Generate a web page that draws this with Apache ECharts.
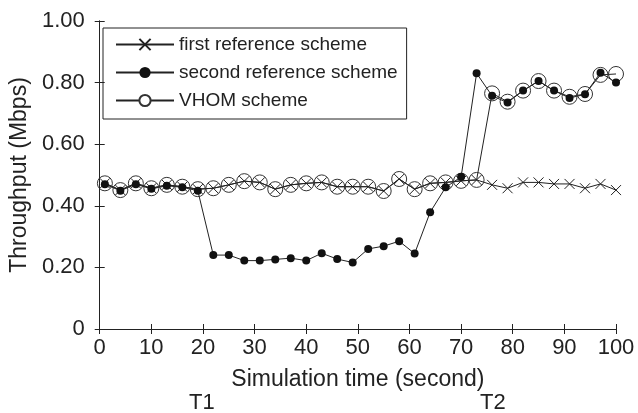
<!DOCTYPE html>
<html>
<head>
<meta charset="utf-8">
<script src="https://cdn.jsdelivr.net/npm/echarts@6/dist/echarts.min.js"></script>
<style>
    html, body { margin: 0; padding: 0; background: #ffffff; }
    #chart { width: 638px; height: 413px; }
</style>
</head>
<body>
<div id="chart"></div>
<script>
const timeSec = [1, 4, 7, 10, 13, 16, 19, 22, 25, 28, 31, 34, 37, 40, 43, 46, 49,
    52, 55, 58, 61, 64, 67, 70, 73, 76, 79, 82, 85, 88, 91, 94, 97, 100];

const firstReference = [0.473, 0.451, 0.473, 0.457, 0.468, 0.462, 0.454, 0.457, 0.468,
    0.480, 0.476, 0.454, 0.468, 0.473, 0.476, 0.462, 0.462, 0.462, 0.448, 0.487,
    0.454, 0.473, 0.476, 0.481, 0.484, 0.468, 0.457, 0.476, 0.476, 0.471, 0.471,
    0.457, 0.471, 0.451];

const secondReference = [0.470, 0.449, 0.470, 0.455, 0.465, 0.460, 0.449, 0.240, 0.240,
    0.222, 0.222, 0.226, 0.230, 0.222, 0.246, 0.227, 0.216, 0.260, 0.269, 0.285,
    0.245, 0.379, 0.460, 0.494, 0.830, 0.757, 0.735, 0.774, 0.805, 0.774, 0.750,
    0.762, 0.832, 0.800];

const vhom = [0.473, 0.451, 0.473, 0.457, 0.468, 0.462, 0.454, 0.457, 0.468,
    0.480, 0.476, 0.454, 0.468, 0.473, 0.476, 0.462, 0.462, 0.462, 0.448, 0.487,
    0.454, 0.473, 0.476, 0.481, 0.484, 0.765, 0.738, 0.774, 0.805, 0.774, 0.754,
    0.763, 0.825, 0.828];

const seriesNames = ["first reference scheme", "second reference scheme", "VHOM scheme"];
const eventLabels = ["T1", "T2"];

const FONT = "Liberation Sans, Arial, sans-serif";
const INK = "#222222";

// open symbols drawn as stroked paths so the marks underneath stay visible
const CROSS = "path://M0,0L10,10M10,0L0,10";
const RING = "path://M0,5A5,5,0,1,1,10,5A5,5,0,1,1,0,5Z";

function pairs(values) {
    return values.map((v, i) => [timeSec[i], v]);
}

const chart = echarts.init(document.getElementById("chart"));

const axisCommon = {
    axisLine: { show: true, lineStyle: { color: INK, width: 1 } },
    axisTick: { show: true, inside: true, length: 5, lineStyle: { color: INK } },
    splitLine: { show: false }
};

chart.setOption({
    backgroundColor: "#ffffff",
    animation: false,
    grid: {
        left: 95,
        right: 22,
        top: 21,
        bottom: 84
    },
    legend: {
        orient: "vertical",
        left: 103,
        top: 28,
        padding: [7, 9, 9, 12],
        itemGap: 9,
        itemWidth: 58,
        itemHeight: 14,
        borderColor: INK,
        borderWidth: 1,
        data: [
            { name: seriesNames[0] },
            { name: seriesNames[1] },
            { name: seriesNames[2], itemStyle: { color: "#ffffff" } }
        ],
        textStyle: {
            color: INK,
            fontFamily: FONT,
            fontSize: 19
        }
    },
    xAxis: [
        Object.assign({
            type: "value",
            min: 0,
            max: 100,
            interval: 10,
            name: "Simulation time (second)",
            nameLocation: "middle",
            nameGap: 39,
            nameTextStyle: { color: INK, fontFamily: FONT, fontSize: 23 },
            axisLabel: { color: INK, fontFamily: FONT, fontSize: 22, margin: 8 }
        }, axisCommon),
        Object.assign({
            type: "value",
            position: "top",
            min: 0,
            max: 100,
            interval: 10,
            axisLabel: { show: false }
        }, axisCommon)
    ],
    yAxis: [
        Object.assign({
            type: "value",
            min: 0,
            max: 1,
            interval: 0.2,
            name: "Throughput (Mbps)",
            nameLocation: "middle",
            nameGap: 62,
            nameTextStyle: { color: INK, fontFamily: FONT, fontSize: 23 },
            axisLabel: {
                color: INK,
                fontFamily: FONT,
                fontSize: 22,
                margin: 15,
                formatter: value => (value === 0 ? "0" : value.toFixed(2))
            }
        }, axisCommon),
        Object.assign({
            type: "value",
            position: "right",
            min: 0,
            max: 1,
            interval: 0.2,
            axisLabel: { show: false }
        }, axisCommon)
    ],
    series: [
        {
            name: seriesNames[2],
            type: "line",
            data: pairs(vhom),
            symbol: RING,
            symbolSize: 15,
            lineStyle: { color: INK, width: 1 },
            itemStyle: { color: "rgba(0,0,0,0)", borderColor: "#333333", borderWidth: 1 }
        },
        {
            name: seriesNames[0],
            type: "line",
            data: pairs(firstReference),
            symbol: CROSS,
            symbolSize: 10,
            lineStyle: { color: INK, width: 1 },
            itemStyle: { color: INK, borderColor: INK, borderWidth: 1 }
        },
        {
            name: seriesNames[1],
            type: "line",
            data: pairs(secondReference),
            symbol: "circle",
            symbolSize: 8,
            lineStyle: { color: INK, width: 1 },
            itemStyle: { color: "#111111" }
        }
    ],
    graphic: [
        {
            type: "text",
            left: 189,
            top: 392,
            style: { text: eventLabels[0], fill: INK, font: "22px " + FONT }
        },
        {
            type: "text",
            left: 480,
            top: 392,
            style: { text: eventLabels[1], fill: INK, font: "22px " + FONT }
        }
    ]
});
</script>
</body>
</html>
